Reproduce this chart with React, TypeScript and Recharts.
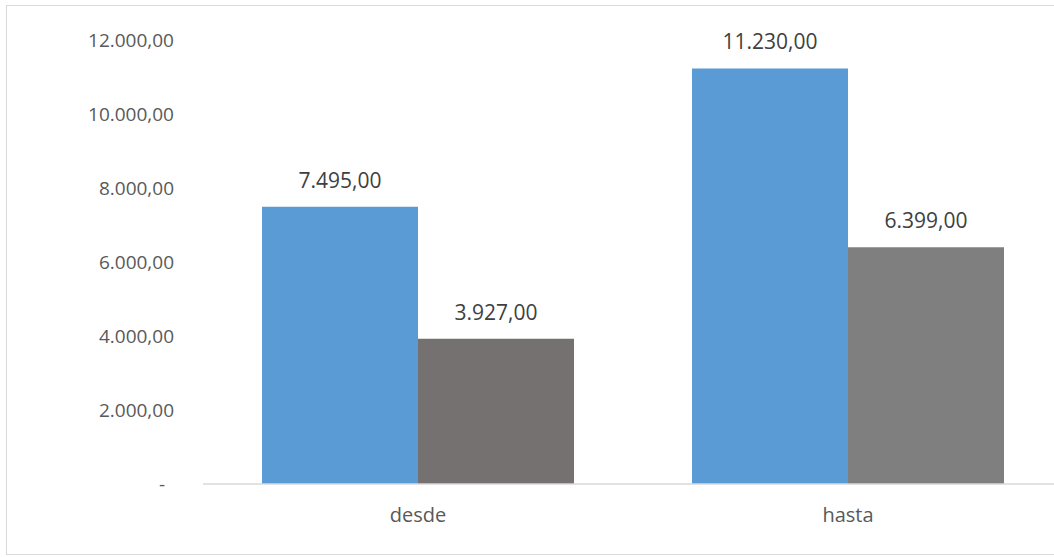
import { BarChart, Bar, XAxis, YAxis, LabelList, Cell } from 'recharts'

const categories = ['desde', 'hasta']
const serieAzul = [7495, 11230]
const serieGris = [3927, 6399]
const grisColores = ['#767171', '#7F7F7F']
const yTicks = [0, 2000, 4000, 6000, 8000, 10000, 12000]

const data = categories.map((c, i) => ({ cat: c, azul: serieAzul[i], gris: serieGris[i] }))

const font = '"Open Sans", sans-serif'

// formato es: 12.000,00
function fmt(v: number) {
  const [ent, dec] = v.toFixed(2).split('.')
  return ent.replace(/\B(?=(\d{3})+(?!\d))/g, '.') + ',' + dec
}

function YTick(props: any) {
  const { x, y, payload } = props
  const v = payload.value
  return (
    <text
      x={v === 0 ? x - 9 : x}
      y={y}
      dy={6.5}
      textAnchor="end"
      fill="#595959"
      fontSize={19}
      fontFamily={font}
    >
      {v === 0 ? '-' : fmt(v)}
    </text>
  )
}

export default function App() {
  return (
    <div
      style={{
        position: 'fixed',
        left: 0,
        top: 0,
        width: 1054,
        height: 557,
        overflow: 'hidden',
        background: 'white',
      }}
    >
      <div
        style={{
          position: 'absolute',
          left: 6,
          top: 5,
          width: 1070,
          height: 548,
          border: '1.5px solid #d9d9d9',
        }}
      />
      <div style={{ position: 'absolute', left: 0, top: 0 }}>
        <BarChart
          width={1070}
          height={557}
          data={data}
          margin={{ top: 40, right: 7, bottom: 13, left: 0 }}
          barCategoryGap={59}
          barGap={0}
        >
          <XAxis
            dataKey="cat"
            height={60}
            tickLine={false}
            axisLine={{ stroke: '#d9d9d9', strokeWidth: 1.5 }}
            tickMargin={18}
            tick={{ fill: '#595959', fontSize: 20, fontFamily: font }}
          />
          <YAxis
            width={203}
            domain={[0, 12000]}
            ticks={yTicks}
            axisLine={false}
            tickLine={false}
            tickMargin={23}
            tick={<YTick />}
          />
          <Bar dataKey="azul" fill="#5B9BD5" isAnimationActive={false}>
            <LabelList
              dataKey="azul"
              position="top"
              offset={19}
              formatter={(v: any) => fmt(Number(v))}
              style={{ fill: '#404040', fontSize: 21, fontFamily: font }}
            />
          </Bar>
          <Bar dataKey="gris" isAnimationActive={false}>
            {data.map((_, i) => (
              <Cell key={i} fill={grisColores[i]} />
            ))}
            <LabelList
              dataKey="gris"
              position="top"
              offset={19}
              formatter={(v: any) => fmt(Number(v))}
              style={{ fill: '#404040', fontSize: 21, fontFamily: font }}
            />
          </Bar>
        </BarChart>
      </div>
    </div>
  )
}
